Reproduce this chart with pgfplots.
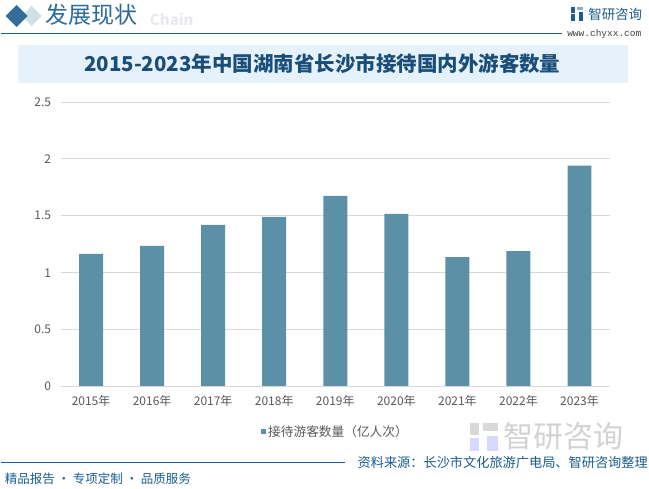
\documentclass[border=0pt]{standalone}
\usepackage{pgfplots}
\pgfplotsset{compat=1.18}
\usepackage{fontspec}
\setmainfont{Noto Sans CJK SC}
\newfontfamily\liberserif{Liberation Mono}
\definecolor{barc}{HTML}{5B90A7}
\definecolor{dblue}{HTML}{1B5E8F}
\definecolor{hblue}{HTML}{2A6A9C}
\definecolor{tblue}{HTML}{1A4E78}
\definecolor{boxbg}{HTML}{E6F2FB}
\definecolor{ticktxt}{HTML}{595959}
\definecolor{gridc}{HTML}{D9D9D9}
\pgfplotstableread{
x val
0 1.165
1 1.235
2 1.42
3 1.49
4 1.676
5 1.518
6 1.138
7 1.19
8 1.94
}\datatab
\begin{document}
\begin{tikzpicture}[x=1pt,y=1pt]
% canvas
\path[fill=white] (0,0) rectangle (649,-489);
% header
\fill[dblue!20] (31,-6) -- (41,-16) -- (31,-26) -- (21,-16) -- cycle;
\fill[dblue!90] (16,-5) -- (27,-16) -- (16,-27) -- (5,-16) -- cycle;
\node[anchor=west,text=blue!10!gray!15,font=\bfseries\fontsize{15}{15}\selectfont] at (146,-19) {Chain};
\node[anchor=west,inner sep=0pt,text=hblue,font=\fontsize{23}{23}\selectfont] at (45,-15) {发展现状};
\draw[dblue,line width=1.2pt] (0,-33.5) -- (562,-33.5);
% logo
\fill[dblue] (571,-7) rectangle (575,-13);
\fill[dblue] (571,-14) rectangle (575,-21);
\fill[dblue!50] (577,-7) rectangle (583,-10);
\fill[dblue] (579,-12) rectangle (583,-21);
\node[anchor=west,inner sep=0pt,text=dblue,font=\fontsize{13.5}{13.5}\selectfont] at (588,-14) {智研咨询};
\node[anchor=west,inner sep=0pt,text=black!75,font=\liberserif\fontsize{9.5}{9.5}\selectfont] at (567,-34) {www.chyxx.com};
% title box
\fill[boxbg] (17,-45) rectangle (628,-83);
\node[text=tblue,font=\bfseries\fontsize{20.5}{20.5}\selectfont] at (322,-64) {2015-2023年中国湖南省长沙市接待国内外游客数量};
% watermark logo bottom right
\node[anchor=west,inner sep=0pt,text=gray!35,font=\fontsize{30}{30}\selectfont] at (503,-437) {智研咨询};
\fill[gray!30] (470,-423) rectangle (479,-435);
\fill[blue!15] (470,-438) rectangle (479,-451);
\fill[gray!30] (483,-423) rectangle (498,-431);
\fill[blue!15] (487,-436) rectangle (498,-451);
% footer
\draw[dblue,line width=0.8pt] (0,-463) -- (345,-463);
\node[anchor=east,inner sep=0pt,text=dblue,font=\fontsize{13.2}{13.2}\selectfont] at (648,-463) {资料来源：长沙市文化旅游广电局、智研咨询整理};
\node[anchor=west,inner sep=0pt,text=dblue,font=\fontsize{12.5}{12.5}\selectfont] at (4,-479) {精品报告 · 专项定制 · 品质服务};
\begin{axis}[
  at={(60pt,-387pt)}, anchor=south west,
  scale only axis, width=550pt, height=285pt,
  xmin=-0.5, xmax=8.5, ymin=0, ymax=2.5,
  ytick={0,0.5,1,1.5,2,2.5},
  yticklabels={0,0.5,1,1.5,2,2.5},
  xtick=data,
  xticklabels={2015年,2016年,2017年,2018年,2019年,2020年,2021年,2022年,2023年},
  axis line style={draw=none},
  axis x line*=bottom, axis y line*=left,
  major tick length=0pt,
  ymajorgrids, grid style={gridc, line width=0.8pt},
  ticklabel style={text=ticktxt, font=\fontsize{12}{12}\selectfont},
  /pgf/number format/assume math mode=true,
  yticklabel style={xshift=-6pt},
  xticklabel style={yshift=-5pt},
  legend style={at={(0.5,-0.158)}, anchor=center, draw=none, fill=none,
    font=\fontsize{12.7}{12.7}\selectfont, text=ticktxt},
  legend image code/.code={\fill[barc] (0cm,-0.095cm) rectangle (0.19cm,0.095cm);},
]
\addplot[ybar, bar width=24pt, fill=barc, draw=none] table[x=x,y=val]{\datatab};
\addlegendentry{接待游客数量（亿人次）}
\draw[gridc, line width=0.8pt] (axis cs:-0.5,0) -- (axis cs:8.5,0);
\end{axis}
\end{tikzpicture}
\end{document}
